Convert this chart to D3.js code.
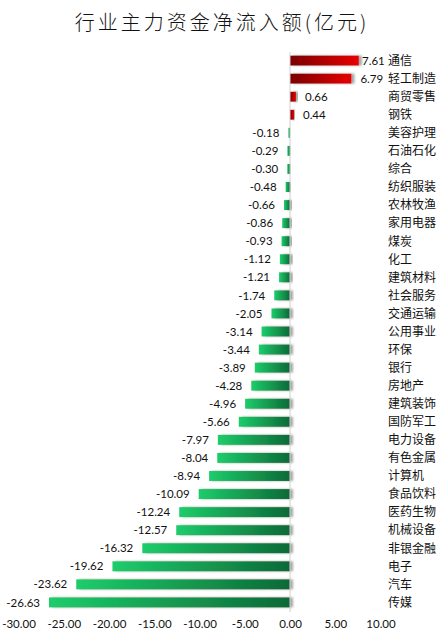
<!DOCTYPE html>
<html lang="zh">
<head>
<meta charset="UTF-8">
<title>行业主力资金净流入额</title>
<script src="https://d3js.org/d3.v7.min.js"></script>
<style>
  body { margin: 0; background: #fff; }
  svg { display: block; }
</style>
</head>
<body>
<svg></svg>
<script>
// industries, top to bottom
const categories = ["通信", "轻工制造", "商贸零售", "钢铁", "美容护理", "石油石化", "综合", "纺织服装",
    "农林牧渔", "家用电器", "煤炭", "化工", "建筑材料", "社会服务", "交通运输", "公用事业",
    "环保", "银行", "房地产", "建筑装饰", "国防军工", "电力设备", "有色金属", "计算机",
    "食品饮料", "医药生物", "机械设备", "非银金融", "电子", "汽车", "传媒"];
const values = [7.61, 6.79, 0.66, 0.44, -0.18, -0.29, -0.30, -0.48,
    -0.66, -0.86, -0.93, -1.12, -1.21, -1.74, -2.05, -3.14,
    -3.44, -3.89, -4.28, -4.96, -5.66, -7.97, -8.04, -8.94,
    -10.09, -12.24, -12.57, -16.32, -19.62, -23.62, -26.63];
const xTicks = [-30, -25, -20, -15, -10, -5, 0, 5, 10];
const title = "行业主力资金净流入额(亿元)";

const data = categories.map((c, i) => ({ name: c, value: values[i] }));

const width = 442, height = 640;
const svg = d3.select("svg").attr("width", width).attr("height", height);

const x = d3.scaleLinear().domain([-30, 10]).range([18.5, 380.5]);
const y = d3.scaleBand().domain(categories).range([52, 611]).paddingInner(0.45).paddingOuter(0.2);

const defs = svg.append("defs");
const gRed = defs.append("linearGradient").attr("id", "gRed");
gRed.append("stop").attr("offset", "0%").attr("stop-color", "#7a0000");
gRed.append("stop").attr("offset", "100%").attr("stop-color", "#e80000");
const gGreen = defs.append("linearGradient").attr("id", "gGreen");
gGreen.append("stop").attr("offset", "0%").attr("stop-color", "#1ccd6b");
gGreen.append("stop").attr("offset", "100%").attr("stop-color", "#0d6a37");
const shadow = defs.append("filter").attr("id", "shadow")
    .attr("x", "-20%").attr("y", "-50%").attr("width", "140%").attr("height", "200%");
shadow.append("feDropShadow").attr("dx", 3).attr("dy", 0).attr("stdDeviation", 1.2)
    .attr("flood-color", "#808080").attr("flood-opacity", 0.7);

// title
svg.append("text")
    .attr("x", 222).attr("y", 30)
    .attr("text-anchor", "middle")
    .style("font-family", "'Noto Sans CJK SC', sans-serif")
    .style("font-size", "20px")
    .style("font-weight", 300)
    .style("letter-spacing", "3px")
    .attr("fill", "#111")
    .text(title);

// bars
svg.selectAll(".bar")
    .data(data)
    .join("rect")
    .attr("class", "bar")
    .attr("x", d => x(Math.min(0, d.value)))
    .attr("y", d => y(d.name))
    .attr("width", d => Math.abs(x(d.value) - x(0)))
    .attr("height", y.bandwidth())
    .attr("fill", d => d.value >= 0 ? "url(#gRed)" : "url(#gGreen)")
    .attr("filter", "url(#shadow)");

// zero line
svg.append("line")
    .attr("x1", x(0)).attr("x2", x(0))
    .attr("y1", 52).attr("y2", 612)
    .attr("stroke", "#d0d0d0").attr("stroke-width", 1);

// value labels
svg.selectAll(".val")
    .data(data)
    .join("text")
    .attr("class", "val")
    .attr("x", d => d.value >= 0 ? Math.min(x(d.value) + 9, 362) : x(d.value) - 9)
    .attr("y", d => y(d.name) + y.bandwidth() / 2)
    .attr("dy", "0.36em")
    .attr("text-anchor", d => d.value >= 0 ? "start" : "end")
    .style("font-family", "Lato, 'Open Sans', sans-serif")
    .style("font-size", "11.5px")
    .attr("fill", "#111")
    .text(d => d.value.toFixed(2));

// category labels
svg.selectAll(".cat")
    .data(data)
    .join("text")
    .attr("class", "cat")
    .attr("x", 388)
    .attr("y", d => y(d.name) + y.bandwidth() / 2)
    .attr("dy", "0.36em")
    .style("font-family", "'Noto Sans CJK SC', sans-serif")
    .style("font-size", "12px")
    .attr("fill", "#111")
    .text(d => d.name);

// x axis, labels only
const xAxis = d3.axisBottom(x).tickValues(xTicks).tickSize(0).tickFormat(d => d.toFixed(2));
svg.append("g")
    .attr("transform", "translate(0, 617)")
    .call(xAxis)
    .call(g => g.select(".domain").remove())
    .call(g => g.selectAll("text")
        .style("font-family", "Lato, 'Open Sans', sans-serif")
        .style("font-size", "11.5px")
        .attr("fill", "#111"));
</script>
</body>
</html>
